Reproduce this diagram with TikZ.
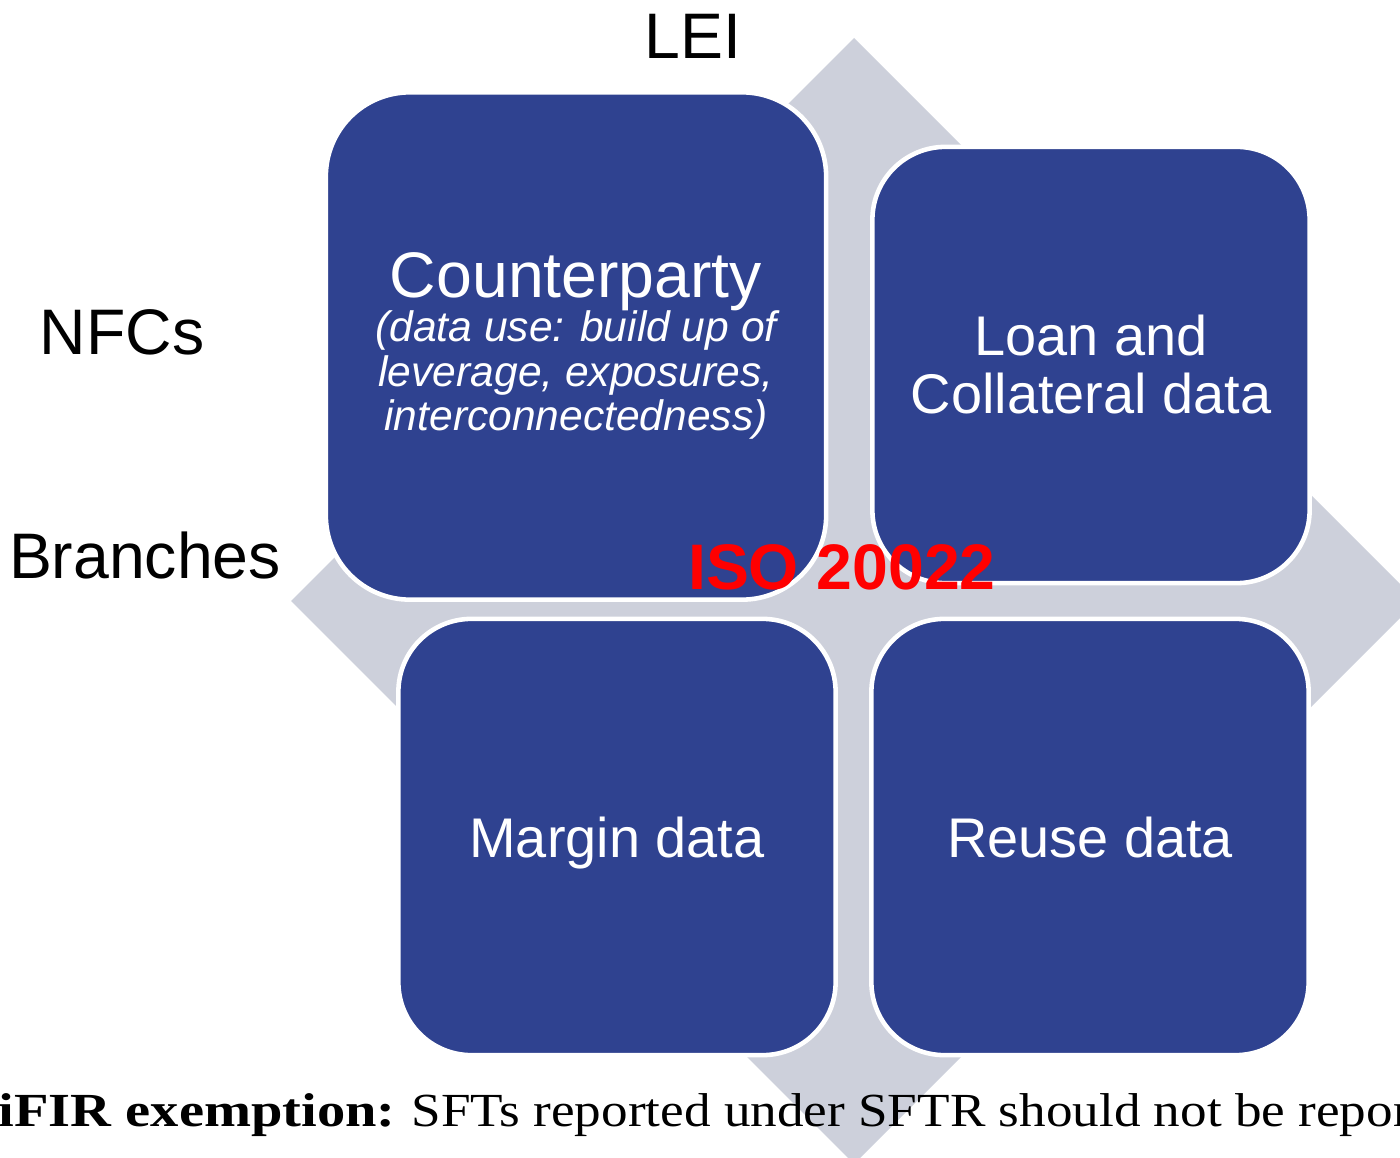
\documentclass[tikz,border=0pt]{standalone}
\usepackage{fontspec}
\setmainfont{Liberation Serif}
\setsansfont{Liberation Sans}
\usepackage{graphicx}
\usepackage{tikz}
\definecolor{sftBlue}{RGB}{47,66,144}
\definecolor{sftGrey}{RGB}{205,208,219}
\definecolor{isoRed}{RGB}{255,0,0}

\begin{document}
\begin{tikzpicture}[x=0.01cm,y=-0.01cm,
    block/.style={fill=sftBlue,draw=white,line width=1.3pt,text=white,
      align=center,inner sep=0pt},
    bigblock/.style={block,minimum width=5cm,minimum height=5.07cm,rounded corners=0.84cm},
    smallblock/.style={block,minimum width=4.37cm,minimum height=4.36cm,rounded corners=0.73cm},
    sidelabel/.style={font=\sffamily\fontsize{18.3}{20}\selectfont,anchor=base,inner sep=0pt}]
  \useasboundingbox (0,0) rectangle (1400,1158);
  \clip (0,0) rectangle (1400,1158);
  % grey diamond behind the blocks
  \fill[sftGrey] (854,38) -- (1417,601) -- (854,1164) -- (291,601) -- cycle;
  % the four data blocks
  \node[bigblock,font=\sffamily\itshape\fontsize{12.1}{12.6}\selectfont] (cpty) at (576,346) {%
    {\upshape\fontsize{18.3}{18.3}\selectfont Counterparty}\\
    (data use: build up of\\ leverage, exposures,\\ interconnectedness)};
  \node[smallblock,font=\sffamily\fontsize{15.9}{16.5}\selectfont] (loan) at (1091,365)
    {Loan and\\ Collateral data};
  \node[smallblock,text depth=0pt,font=\sffamily\fontsize{15.9}{16.5}\selectfont] (margin)
    at (617,837) {Margin data};
  \node[smallblock,text depth=0pt,font=\sffamily\fontsize{15.9}{16.5}\selectfont] (reuse)
    at (1090,837) {Reuse data};
  % labels round the blocks
  \node[sidelabel] (lei) at (693,59) {LEI};
  \node[sidelabel] (nfc) at (122,355) {NFCs};
  \node[sidelabel] (branch) at (145,578) {Branches};
  \node[sidelabel,font=\sffamily\bfseries\fontsize{18.3}{20}\selectfont,text=isoRed]
    (iso) at (842,589) {ISO 20022};
  % exemption note along the bottom
  \node[anchor=base west,inner sep=0pt,font=\bfseries\fontsize{13.5}{14}\selectfont]
    (exempt) at (-2,1126) {\scalebox{1.19}[1]{iFIR exemption:}};
  \node[anchor=base west,inner sep=0pt,font=\fontsize{13.5}{14}\selectfont]
    (note) at (411,1126) {\scalebox{1.12}[1]{SFTs reported under SFTR should not be repor}};
\end{tikzpicture}
\end{document}
